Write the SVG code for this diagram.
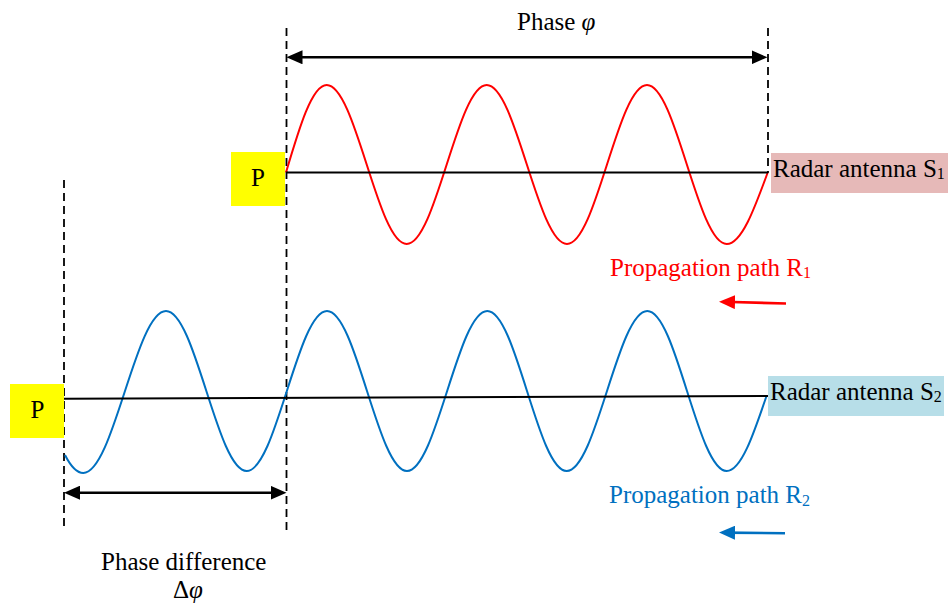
<svg xmlns="http://www.w3.org/2000/svg" width="950" height="610" viewBox="0 0 950 610">
<style>
text{font-family:"Liberation Serif","Times New Roman",serif;font-size:25px;fill:#000}
.it{font-style:italic}
.dash{stroke:#000;stroke-width:1.8;stroke-dasharray:8 5;fill:none}
.axis{stroke:#000;stroke-width:2;fill:none}
.dim{stroke:#000;stroke-width:2.6;fill:none}
.wave{fill:none;stroke-width:2}
</style>
<defs>
<marker id="ah" markerUnits="userSpaceOnUse" markerWidth="16" markerHeight="14" refX="12" refY="7" orient="auto-start-reverse" viewBox="0 0 16 14">
<path d="M0,0 L16,7 L0,14 z" fill="#000"/>
</marker>
<marker id="ahr" markerUnits="userSpaceOnUse" markerWidth="16" markerHeight="14" refX="12" refY="7" orient="auto" viewBox="0 0 16 14">
<path d="M0,0 L16,7 L0,14 z" fill="#FF0000"/>
</marker>
<marker id="ahb" markerUnits="userSpaceOnUse" markerWidth="16" markerHeight="14" refX="12" refY="7" orient="auto" viewBox="0 0 16 14">
<path d="M0,0 L16,7 L0,14 z" fill="#0070C0"/>
</marker>
</defs>
<rect width="950" height="610" fill="#fff"/>

<g id="guides">
<line class="dash" x1="286.5" y1="28" x2="286.5" y2="530"/>
<line class="dash" x1="768" y1="28" x2="768" y2="173"/>
<line class="dash" x1="64" y1="180" x2="64" y2="530"/>
</g>

<g id="node-p1">
<rect x="231" y="152" width="54" height="54" fill="#FFFF00"/>
<text x="258" y="185.5" text-anchor="middle">P</text>
</g>
<g id="node-p2">
<rect x="10" y="384" width="54" height="54" fill="#FFFF00"/>
<text x="37.5" y="418" text-anchor="middle">P</text>
</g>

<g id="node-s1">
<rect x="771" y="153" width="177" height="40" fill="#E6B9B8"/>
<text x="773" y="177">Radar antenna S<tspan font-size="16" dy="2">1</tspan></text>
</g>
<g id="node-s2">
<rect x="768" y="376" width="176" height="40" fill="#B7DEE8"/>
<text x="770" y="400">Radar antenna S<tspan font-size="16" dy="2">2</tspan></text>
</g>

<g id="waves">
<path class="wave" stroke="#FF0000" d="M286,172.5 C299.3,127.7 312,85 326.7,85 C355.8,85 377.6,244 406.7,244 C435.8,244 457.6,85 486.7,85 C515.9,85 537.8,244 567,244 C596.1,244 617.9,85 647,85 C676,85 697.7,244 726.7,244 C741.5,244 754.3,209.1 767.7,172.5"/>
<path class="wave" stroke="#0070C0" d="M65,455 C71.1,467 77.2,473 83.3,473 C113.4,473 135.9,311 166,311 C195.4,311 217.3,471 246.7,471 C275.9,471 297.8,311 327,311 C356.1,311 377.9,471 407,471 C436.2,471 458.1,311 487.3,311 C516.2,311 537.8,471 566.7,471 C596,471 618,311 647.3,311 C676.2,311 697.8,471 726.7,471 C741.1,471 753.5,434.4 766.5,396"/>
</g>

<g id="connectors">
<line class="axis" x1="286" y1="172.5" x2="768" y2="172.5"/>
<line class="axis" x1="64" y1="398.7" x2="768" y2="396"/>
<line class="dim" x1="290.5" y1="57.3" x2="763.5" y2="57.3" marker-start="url(#ah)" marker-end="url(#ah)"/>
<line class="dim" x1="68" y1="492.7" x2="282.5" y2="492.7" marker-start="url(#ah)" marker-end="url(#ah)"/>
<line stroke="#FF0000" stroke-width="2.6" x1="786" y1="303.5" x2="723" y2="301.8" marker-end="url(#ahr)"/>
<line stroke="#0070C0" stroke-width="2.6" x1="785" y1="533.2" x2="723" y2="532.6" marker-end="url(#ahb)"/>
</g>

<g id="labels">
<text x="517" y="30">Phase <tspan class="it">φ</tspan></text>
<text x="610" y="275.7" style="fill:#FF0000">Propagation path R<tspan font-size="16" dy="2.5">1</tspan></text>
<text x="609" y="503.3" style="fill:#0070C0">Propagation path R<tspan font-size="16" dy="2.5">2</tspan></text>
<text x="101" y="570">Phase difference</text>
<text x="173" y="598">Δ<tspan class="it">φ</tspan></text>
</g>
</svg>
